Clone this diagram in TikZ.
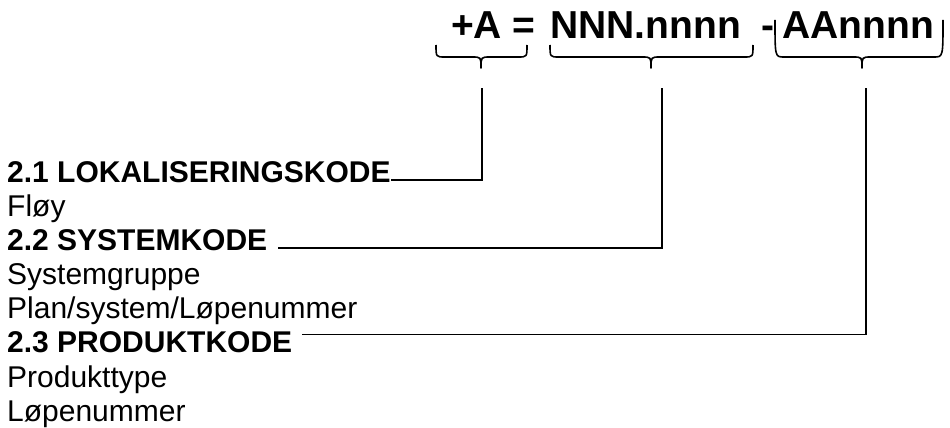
\documentclass[tikz,border=0pt]{standalone}
\usepackage{fontspec}
\setmainfont{Liberation Sans}
\begin{document}
\begin{tikzpicture}[x=1pt,y=1pt]
        \tikzstyle{every node}+=[inner sep=0pt]
        \tikzstyle{head}=[font=\fontsize{39}{45}\selectfont\bfseries, anchor=base west]
        \tikzstyle{line}=[font=\fontsize{30}{34}\selectfont, anchor=base west]
        \tikzstyle{bline}=[line, font=\fontsize{30}{34}\selectfont\bfseries]
        \tikzstyle{brace}=[black, line width=1.6pt, line join=round]
        \tikzstyle{link}=[black, line width=1.8pt]
        \newcommand{\codebrace}[4]{% left, tip, right, arm top
          \draw [brace] (#1,-#4) .. controls (#1,-57) .. (#1+9,-57) -- (#2-9,-57)
            .. controls (#2,-57) .. (#2,-68) .. controls (#2,-57) .. (#2+9,-57)
            -- (#3-9,-57) .. controls (#3,-57) .. (#3,-#4);}
        \useasboundingbox (0,0) rectangle (950,-428);
        % code line
        \node [head] (loc) at (451,-38) {+A =};
        \node [head] (syst) at (550,-38) {NNN.nnnn};
        \node [head] (dash) at (761,-38) {-};
        \node [head] (prodc) at (782,-38) {AAnnnn};
        \codebrace{436}{481}{527}{45}
        \codebrace{550}{651}{753}{45}
        \codebrace{775}{862}{943}{20}
        \coordinate (tA) at (482,-88);
        \coordinate (tB) at (662,-88);
        \coordinate (tC) at (866,-88);
        % list
        \node [bline] (lok) at (7,-182) {2.1 LOKALISERINGSKODE};
        \node [line] (floy) at (7,-216) {Fløy};
        \node [bline] (sys) at (7,-250) {2.2 SYSTEMKODE};
        \node [line] (sysgr) at (7,-284) {Systemgruppe};
        \node [line] (plan) at (7,-318) {Plan/system/Løpenummer};
        \node [bline] (prod) at (7,-352.5) {2.3 PRODUKTKODE};
        \node [line] (prodt) at (7,-387) {Produkttype};
        \node [line] (lop) at (7,-421) {Løpenummer};
        % links
        \draw [link] (tA) |- ([yshift=2pt]lok.base east);
        \draw [link] (tB) |- ([xshift=11pt,yshift=2pt]sys.base east);
        \draw [link] (tC) |- ([xshift=10pt,yshift=18pt]prod.base east);
\end{tikzpicture}
\end{document}
